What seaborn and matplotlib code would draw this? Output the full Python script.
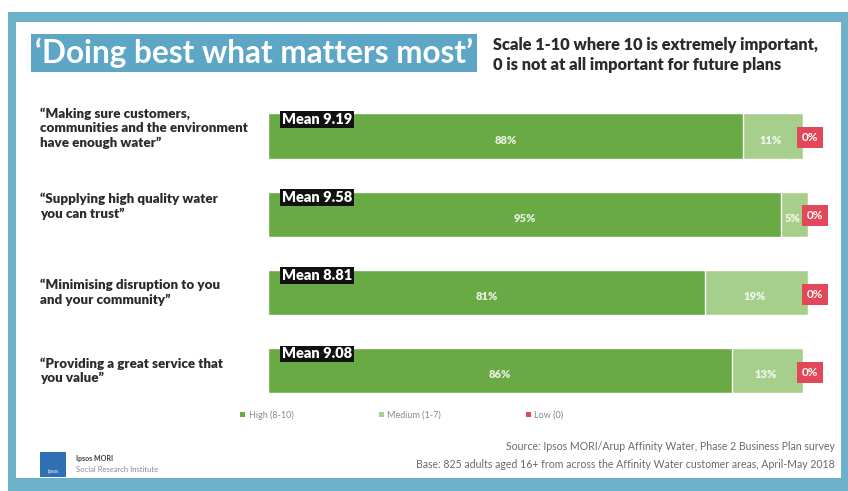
import matplotlib
matplotlib.use("Agg")
import matplotlib.pyplot as plt
from matplotlib.patches import Rectangle, Patch
import seaborn as sns
import pandas as pd

# ---- data -------------------------------------------------------------
statements = [
    "\u201cMaking sure customers,\ncommunities and the environment\nhave enough water\u201d",
    "\u201cSupplying high quality water\nyou can trust\u201d",
    "\u201cMinimising disruption to you\nand your community\u201d",
    "\u201cProviding a great service that\nyou value\u201d",
]
high = [88, 95, 81, 86]
medium = [11, 5, 19, 13]
low = [0, 0, 0, 0]
means = [9.19, 9.58, 8.81, 9.08]
legend_labels = ["High (8-10)", "Medium (1-7)", "Low (0)"]

title = "\u2018Doing best what matters most\u2019"
subtitle = "Scale 1-10 where 10 is extremely important,\n0 is not at all important for future plans"
source_lines = [
    "Source: Ipsos MORI/Arup Affinity Water, Phase 2 Business Plan survey",
    "Base: 825 adults aged 16+ from across the Affinity Water customer areas, April-May 2018",
]

# ---- style ------------------------------------------------------------
GREEN = "#6aaa45"
LIGHT_GREEN = "#a6cf8c"
RED = "#e2485a"
FRAME = "#6db1cb"
TITLE_BOX = "#5ea6c6"
TEXT = "#2b2b2b"

sns.set_theme(style="white")
plt.rcParams["font.family"] = ["Lato", "DejaVu Sans"]

W, H = 848, 491
fig = plt.figure(figsize=(W / 100, H / 100), dpi=100)
fig.patch.set_facecolor("white")


def px(x0, y0, w, h):
    """Figure-fraction rectangle from pixel coordinates (top-left origin)."""
    return (x0 / W, 1 - (y0 + h) / H, w / W, h / H)


# outer frame
for (x0, y0, w, h) in [(8, 12, 840, 10), (8, 12, 8, 479), (841, 12, 7, 479), (8, 478, 840, 13)]:
    fx, fy, fw, fh = px(x0, y0, w, h)
    fig.patches.append(Rectangle((fx, fy), fw, fh, transform=fig.transFigure,
                                 facecolor=FRAME, edgecolor="none", zorder=0))

# ---- bars -------------------------------------------------------------
df = pd.DataFrame({
    "statement": statements,
    "high": high,
    "medium": medium,
    "low": low,
    "mean": means,
})
df["high_med"] = df["high"] + df["medium"]
df["total"] = df["high_med"] + df["low"]

ax = fig.add_axes(px(268, 97, 540, 312.8))
sns.barplot(data=df, x="total", y="statement", color=RED, width=0.58,
            saturation=1, ax=ax, orient="h")
sns.barplot(data=df, x="high_med", y="statement", color=LIGHT_GREEN, width=0.58,
            saturation=1, ax=ax, orient="h")
sns.barplot(data=df, x="high", y="statement", color=GREEN, width=0.58,
            saturation=1, ax=ax, orient="h")

ax.set_xlim(0, 100)
ax.set_ylim(3.5, -0.5)
ax.set_xlabel("")
ax.set_ylabel("")
ax.set_xticks([])
ax.set_yticks([])
for s in ax.spines.values():
    s.set_visible(False)
ax.set_facecolor("none")

# statement labels, left-aligned in a column to the left of the bars
label_x = -228 / 540
label_shift = [-0.1, -0.1, 0.0, 0.0]
for i, (txt, dy) in enumerate(zip(statements, label_shift)):
    ax.text(label_x, i + dy, txt, transform=ax.get_yaxis_transform(),
            ha="left", va="center", fontsize=9.6, fontweight="heavy",
            color=TEXT, linespacing=1.25)

for i, row in df.iterrows():
    # mean badge on the top-left corner of the bar
    ax.text(2.6, i - 0.215, f"Mean {row['mean']:.2f}", ha="left", va="center",
            fontsize=10.5, fontweight="heavy", color="white",
            bbox=dict(boxstyle="square,pad=0.12", facecolor="#111111", edgecolor="none"))
    # segment labels
    ax.text(row["high"] / 2, i + 0.05, f"{row['high']}%", ha="center", va="center",
            fontsize=8, fontweight="heavy", color="white", alpha=0.85)
    ax.text(row["high"] + row["medium"] / 2 - 0.4, i + 0.05, f"{row['medium']}%",
            ha="center", va="center", fontsize=8, fontweight="heavy",
            color="white", alpha=0.85)
    ax.text(row["total"] - 0.2, i + 0.02, f"{row['low']}%", ha="left", va="center",
            fontsize=8.5, fontweight="bold", color="white",
            bbox=dict(boxstyle="square,pad=0.42", facecolor=RED, edgecolor="none"))

# ---- title block ------------------------------------------------------
fig.text(35 / W, 1 - 53 / H, title, ha="left", va="center", fontsize=22.7,
         fontweight="bold", color="white",
         bbox=dict(boxstyle="square,pad=0.12", facecolor=TITLE_BOX, edgecolor="none"))
fig.text(493 / W, 1 - 55 / H, subtitle, ha="left", va="center", fontsize=11.8,
         fontweight="heavy", color=TEXT, linespacing=1.3)

# ---- legend -----------------------------------------------------------
handles = [Patch(facecolor=c, edgecolor="none") for c in (GREEN, LIGHT_GREEN, RED)]
fig.legend(handles, legend_labels, loc="center", bbox_to_anchor=(402 / W, 1 - 415 / H),
           ncol=3, frameon=False, fontsize=6.5, labelcolor="#8a8a8a",
           handlelength=0.55, handleheight=0.55, handletextpad=0.4, columnspacing=9.4)

# ---- source & logo ----------------------------------------------------
fig.text(835 / W, 1 - 447 / H, source_lines[0], ha="right", va="center",
         fontsize=7.6, color="#6a6a6a")
fig.text(835 / W, 1 - 464 / H, source_lines[1], ha="right", va="center",
         fontsize=7.6, color="#6a6a6a")

lx, ly, lw, lh = px(40, 452, 26, 25)
fig.patches.append(Rectangle((lx, ly), lw, lh, transform=fig.transFigure,
                             facecolor="#2f6fb3", edgecolor="none"))
fig.text((40 + 13) / W, 1 - 472 / H, "Ipsos", ha="center", va="center",
         fontsize=3.5, color="white")
fig.text(76 / W, 1 - 458 / H, "Ipsos MORI", ha="left", va="center",
         fontsize=5, fontweight="bold", color="#3a3a3a")
fig.text(76 / W, 1 - 469 / H, "Social Research Institute", ha="left", va="center",
         fontsize=5.5, color="#8a8a8a")

fig.savefig("out.png", dpi=100, facecolor=fig.get_facecolor())
